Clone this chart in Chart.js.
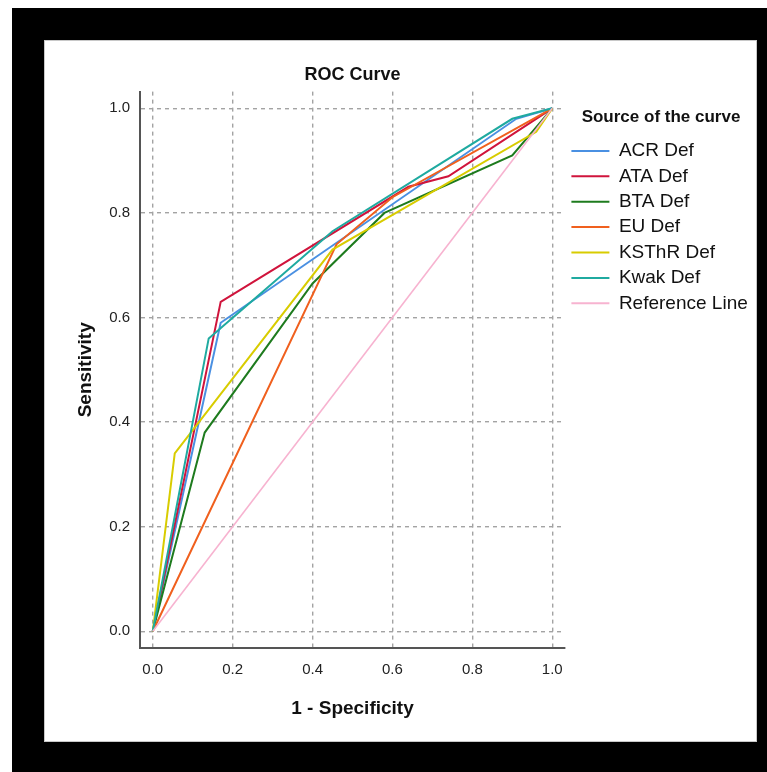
<!DOCTYPE html>
<html>
<head>
<meta charset="utf-8">
<script src="https://cdn.jsdelivr.net/npm/chart.js@4.4.1/dist/chart.umd.min.js"></script>
<style>
    html, body { margin: 0; padding: 0; background: #fff; }
    body { width: 767px; height: 772px; position: relative; overflow: hidden; }
    #moldura { position: absolute; left: 12px; top: 8px; width: 755px; height: 764px; background: #000; }
    #painel { position: absolute; left: 44px; top: 40px; width: 713px; height: 702px; background: #fff; box-shadow: inset 0 0 0 1px #c8c8c8; }
    #rocChart { position: absolute; left: 0; top: 0; }
</style>
</head>
<body>
<div id="moldura"></div>
<div id="painel"><canvas id="rocChart" width="713" height="702"></canvas></div>
<script>
    // pontos das curvas (1 - especificidade, sensibilidade)
    const acrX = [0, 0.17, 0.91, 1]
    const acrY = [0, 0.59, 0.98, 1]
    const ataX = [0, 0.17, 0.64, 0.74, 1]
    const ataY = [0, 0.63, 0.85, 0.87, 1]
    const btaX = [0, 0.13, 0.40, 0.58, 0.90, 1]
    const btaY = [0, 0.38, 0.665, 0.80, 0.91, 1]
    const euX = [0, 0.46, 0.60, 1]
    const euY = [0, 0.74, 0.83, 1]
    const ksthrX = [0, 0.055, 0.45, 0.96, 1]
    const ksthrY = [0, 0.34, 0.73, 0.955, 1]
    const kwakX = [0, 0.14, 0.45, 0.90, 1]
    const kwakY = [0, 0.56, 0.765, 0.98, 1]
    const refX = [0, 1]
    const refY = [0, 1]

    const nomes = ['ACR Def', 'ATA Def', 'BTA Def', 'EU Def', 'KSThR Def', 'Kwak Def', 'Reference Line']
    const cores = ['#4a90e2', '#d0143c', '#1e7b1e', '#f0601e', '#d8cc00', '#1faaa0', '#f7b3d0']
    const tickValues = [0, 0.2, 0.4, 0.6, 0.8, 1.0]

    const series = [
        [acrX, acrY], [ataX, ataY], [btaX, btaY], [euX, euY],
        [ksthrX, ksthrY], [kwakX, kwakY], [refX, refY]
    ]

    function pontos(xs, ys) {
        return xs.map((x, i) => ({ x: x, y: ys[i] }))
    }

    const datasets = series.map((s, i) => ({
        label: nomes[i],
        data: pontos(s[0], s[1]),
        borderColor: cores[i],
        backgroundColor: cores[i],
        borderWidth: i === 6 ? 1.6 : 2,
        showLine: true,
        tension: 0,
        pointRadius: 0,
        order: nomes.length - i
    }))

    function fixarTicks(scale) {
        scale.ticks = tickValues.map(v => ({ value: v }))
    }

    // a legenda da direita fica limitada a 1/4 da largura; forçar a largura certa
    const larguraLegenda = {
        id: 'larguraLegenda',
        beforeLayout(chart) {
            const legenda = chart.legend
            if (!legenda || legenda._fitOriginal) return
            legenda._fitOriginal = legenda.fit
            legenda.fit = function () {
                this._fitOriginal()
                this.width = 192
            }
        }
    }

    const fonte = 'Arial, "Liberation Sans", sans-serif'

    new Chart(document.getElementById('rocChart'), {
        type: 'scatter',
        data: { datasets: datasets },
        plugins: [larguraLegenda],
        options: {
            responsive: false,
            animation: false,
            devicePixelRatio: 1,
            layout: { padding: { left: 0, right: 0, top: 0, bottom: 22 } },
            scales: {
                x: {
                    type: 'linear',
                    min: -0.032,
                    max: 1.032,
                    afterBuildTicks: fixarTicks,
                    afterFit: function (scale) { scale.height = 72 },
                    grid: { color: '#a3a3a3', lineWidth: 1.4, drawTicks: false },
                    border: { display: true, color: '#555', width: 2, dash: [4, 4] },
                    ticks: {
                        padding: 13,
                        color: '#222',
                        font: { family: fonte, size: 15 },
                        callback: v => Number(v).toFixed(1)
                    },
                    title: {
                        display: true,
                        text: '1 - Specificity',
                        color: '#111',
                        padding: { top: 0, bottom: 0 },
                        font: { family: fonte, size: 19, weight: 'bold' }
                    }
                },
                y: {
                    type: 'linear',
                    min: -0.032,
                    max: 1.032,
                    afterBuildTicks: fixarTicks,
                    afterFit: function (scale) { scale.width = 96 },
                    grid: { color: '#a3a3a3', lineWidth: 1.4, drawTicks: false },
                    border: { display: true, color: '#555', width: 2, dash: [4, 4] },
                    ticks: {
                        padding: 10,
                        color: '#222',
                        font: { family: fonte, size: 15 },
                        callback: v => Number(v).toFixed(1)
                    },
                    title: {
                        display: true,
                        text: 'Sensitivity',
                        color: '#111',
                        padding: { top: 30, bottom: 0 },
                        font: { family: fonte, size: 19, weight: 'bold' }
                    }
                }
            },
            plugins: {
                title: {
                    display: true,
                    text: 'ROC Curve',
                    fullSize: false,
                    color: '#111',
                    padding: { top: 24, bottom: 6 },
                    font: { family: fonte, size: 18, weight: 'bold' }
                },
                legend: {
                    position: 'right',
                    align: 'start',
                    fullSize: false,
                    title: {
                        display: true,
                        text: 'Source of the curve',
                        color: '#111',
                        padding: { top: 17, bottom: 6 },
                        font: { family: fonte, size: 17, weight: 'bold' }
                    },
                    labels: {
                        boxWidth: 38,
                        boxHeight: 2,
                        padding: 6.4,
                        color: '#111',
                        font: { family: fonte, size: 19 },
                        generateLabels: function (chart) {
                            return chart.data.datasets.map((ds, i) => ({
                                text: ds.label,
                                fillStyle: ds.borderColor,
                                strokeStyle: ds.borderColor,
                                lineWidth: 0,
                                hidden: false,
                                datasetIndex: i
                            }))
                        }
                    }
                },
                tooltip: { enabled: false }
            }
        }
    })
</script>
</body>
</html>
